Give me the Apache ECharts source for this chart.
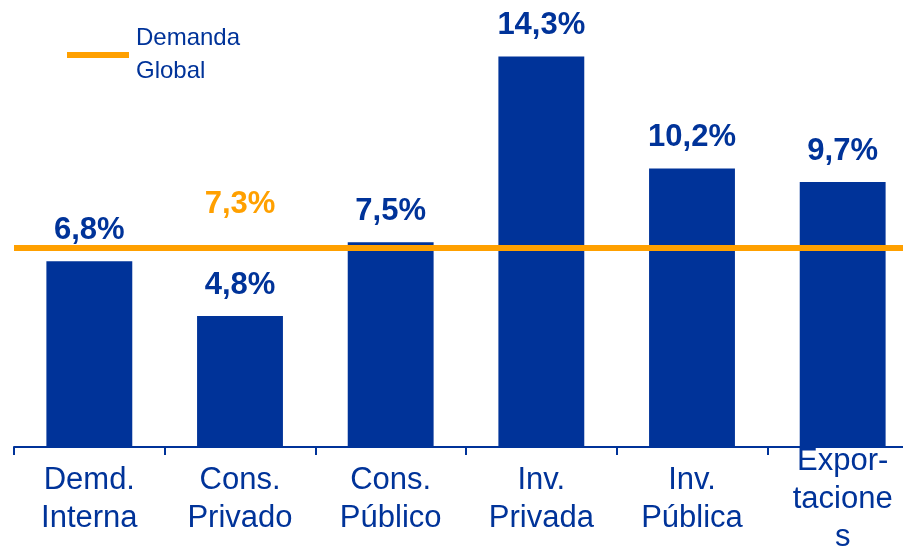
<!DOCTYPE html>
<html>
<head>
<meta charset="utf-8">
<script src="https://cdn.jsdelivr.net/npm/echarts@6/dist/echarts.min.js"></script>
<style>
  html, body { margin: 0; padding: 0; background: #fff; }
  #chart { width: 903px; height: 546px; }
</style>
</head>
<body>
<div id="chart"></div>
<script>
// datos
const categorias = ['Demd.\nInterna', 'Cons.\nPrivado', 'Cons.\nPúblico', 'Inv.\nPrivada', 'Inv.\nPública', 'Expor-\ntacione\ns'];
const crecimiento = [6.8, 4.8, 7.5, 14.3, 10.2, 9.7];
const demandaGlobal = 7.3;
const posEtiquetaGlobal = 1; // la etiqueta 7,3% va sobre Cons. Privado

const azul = '#003399';
const naranja = '#FFA000';
const fuente = 'Liberation Sans, Arial, sans-serif';

const fmt = v => v.toFixed(1).replace('.', ',') + '%';

const chart = echarts.init(document.getElementById('chart'));

const option = {
  animation: false,
  legend: {
    left: 62,
    top: 17,
    icon: 'rect',
    itemWidth: 62,
    itemHeight: 6,
    data: ['Demanda Global'],
    formatter: name => name.replace(' ', '\n'),
    textStyle: {
      color: azul,
      fontFamily: fuente,
      fontSize: 24,
      lineHeight: 33,
      padding: [0, 0, 0, 2]
    }
  },
  grid: {
    left: 14,
    top: 10,
    width: 904,
    height: 437,
    outerBoundsMode: 'none'
  },
  xAxis: {
    type: 'category',
    data: categorias,
    axisLine: { lineStyle: { color: azul, width: 2 } },
    axisTick: { show: true, interval: 0, length: 8, lineStyle: { color: azul, width: 2 } },
    axisLabel: {
      interval: 0,
      color: azul,
      fontFamily: fuente,
      fontSize: 31,
      lineHeight: 38,
      verticalAlign: 'middle',
      margin: 52
    }
  },
  yAxis: {
    type: 'value',
    min: 0,
    max: 16,
    show: false,
    splitLine: { show: false }
  },
  series: [
    {
      name: 'Crecimiento',
      type: 'bar',
      data: crecimiento,
      barWidth: '57%',
      itemStyle: { color: azul },
      label: {
        show: true,
        position: 'top',
        distance: 15,
        color: azul,
        fontFamily: fuente,
        fontWeight: 'bold',
        fontSize: 31,
        formatter: p => fmt(p.value)
      },
      z: 2
    },
    {
      name: 'Demanda Global',
      type: 'line',
      data: categorias.map((c, i) => (i === posEtiquetaGlobal ? demandaGlobal : '-')),
      symbol: 'circle',
      symbolSize: 0,
      showSymbol: true,
      itemStyle: { color: naranja },
      lineStyle: { color: naranja, width: 6 },
      label: {
        show: true,
        position: 'top',
        distance: 28,
        color: naranja,
        fontFamily: fuente,
        fontWeight: 'bold',
        fontSize: 31,
        formatter: p => fmt(p.value)
      },
      markLine: {
        silent: true,
        symbol: 'none',
        label: { show: false },
        lineStyle: { color: naranja, width: 6, type: 'solid' },
        data: [{ yAxis: demandaGlobal }]
      },
      z: 3
    }
  ]
};

chart.setOption(option);
window.addEventListener('resize', () => chart.resize());
</script>
</body>
</html>
